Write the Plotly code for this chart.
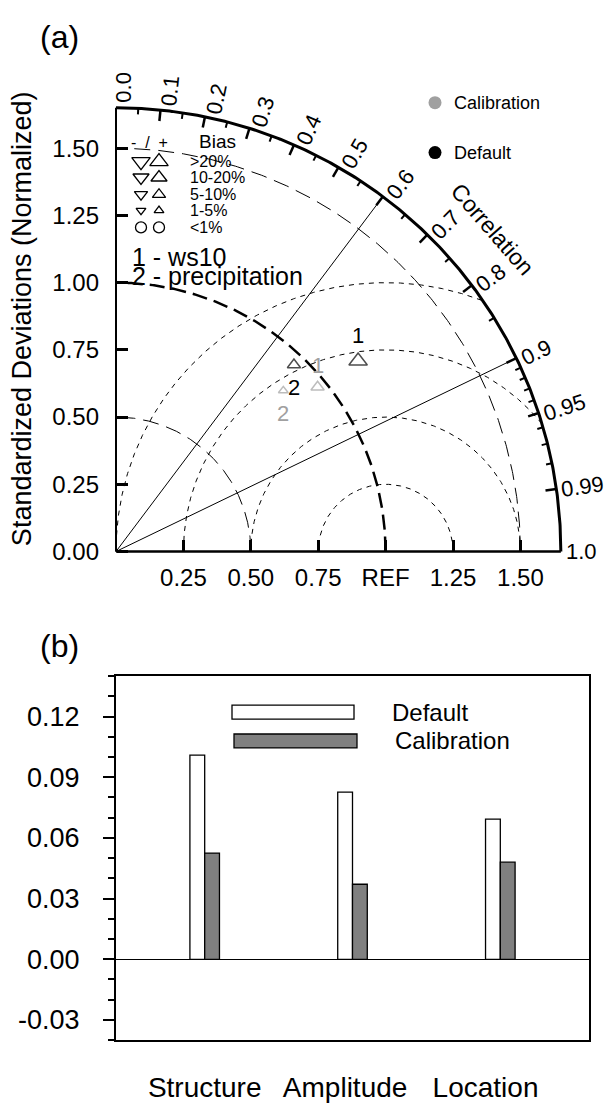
import numpy as np
import plotly.graph_objects as go

W, H = 611, 1103
FONT = "Liberation Sans, Arial, Helvetica, sans-serif"

# ---------------- Data: panel (a) Taylor diagram ----------------
var_ids = ["1", "2"]
var_names = ["ws10", "precipitation"]
default_std = [1.144, 0.958]
default_corr = [0.785, 0.689]
default_bias = [">20%", "5-10%"]
calib_std = [0.966, 0.862]
calib_corr = [0.774, 0.720]
calib_bias = ["5-10%", "1-5%"]

std_ticks = [0.0, 0.25, 0.5, 0.75, 1.0, 1.25, 1.5]
std_ticktext = ["0.00", "0.25", "0.50", "0.75", "1.00", "1.25", "1.50"]
x_ticks = [0.25, 0.5, 0.75, 1.0, 1.25, 1.5]
x_ticktext = ["0.25", "0.50", "0.75", "REF", "1.25", "1.50"]
corr_major = [0.1, 0.2, 0.3, 0.4, 0.5, 0.6, 0.7, 0.8, 0.9, 0.95, 0.99]
corr_minor = [0.05, 0.15, 0.25, 0.35, 0.45, 0.55, 0.65, 0.75, 0.85,
              0.91, 0.92, 0.93, 0.94, 0.96, 0.97, 0.98]
corr_labels = [0.0, 0.1, 0.2, 0.3, 0.4, 0.5, 0.6, 0.7, 0.8, 0.9, 0.95, 0.99, 1.0]
corr_label_text = ["0.0", "0.1", "0.2", "0.3", "0.4", "0.5", "0.6", "0.7", "0.8",
                   "0.9", "0.95", "0.99", "1.0"]
corr_rays = [0.6, 0.9]
std_arcs = [0.5, 1.0, 1.5]
rms_arcs = [0.25, 0.5, 0.75, 1.0]
bias_classes = [">20%", "10-20%", "5-10%", "1-5%", "<1%"]

# ---------------- Data: panel (b) bars ----------------
bar_cats = ["Structure", "Amplitude", "Location"]
bar_default = [0.101, 0.0827, 0.0693]
bar_calib = [0.0525, 0.0371, 0.048]
bar_yticks = [-0.03, 0.0, 0.03, 0.06, 0.09, 0.12]
bar_yticktext = ["-0.03", "0.00", "0.03", "0.06", "0.09", "0.12"]

# ---------------- Geometry / styles ----------------
S = 269.6          # px per unit in Taylor diagram
OX, OY = 116, 553  # pixel position of origin
RMAX = 1.65
TOP_PX = 600
GRAY = "#a0a0a0"
bias_size = {">20%": 16, "10-20%": 14, "5-10%": 11.5, "1-5%": 8.5, "<1%": 11}
LABEL_SPACING = 0.95   # category label spacing relative to bar-group spacing


def pd(px, py):
    """pixel -> Taylor data coords"""
    return (px - OX) / S, (OY - py) / S


def pp(px, py):
    """pixel -> paper coords"""
    return px / W, 1 - py / H


fig = go.Figure()


def line(x, y, width=1, dash="solid", color="black"):
    fig.add_trace(go.Scatter(x=x, y=y, mode="lines", xaxis="x", yaxis="y",
                             line=dict(color=color, width=width, dash=dash),
                             hoverinfo="skip", showlegend=False))


# RMS arcs around REF
tt = np.linspace(0, np.pi, 600)
for r in rms_arcs:
    x = 1 + r * np.cos(tt)
    y = r * np.sin(tt)
    m = (x ** 2 + y ** 2 <= RMAX ** 2 + 1e-9) & (x >= -1e-9)
    line(x[m], y[m], width=1, dash="5px,5px")

# std arcs
t = np.linspace(0, np.pi / 2, 300)
for r in std_arcs:
    if r == 1.0:
        line(r * np.cos(t), r * np.sin(t), width=2.5, dash="15px,7px")
    else:
        line(r * np.cos(t), r * np.sin(t), width=1, dash="16px,8px")

# correlation rays
for c in corr_rays:
    line([0, RMAX * c], [0, RMAX * np.sqrt(1 - c * c)], width=1)

# outer arc and axes
line(RMAX * np.cos(t), RMAX * np.sin(t), width=3)
line([0, RMAX], [0, 0], width=2.5)
line([0, 0], [0, RMAX], width=2)


def arc_ticks(vals, length_px, width):
    xs, ys = [], []
    for c in vals:
        th = np.arccos(c)
        r2 = RMAX - length_px / S
        xs += [RMAX * np.cos(th), r2 * np.cos(th), None]
        ys += [RMAX * np.sin(th), r2 * np.sin(th), None]
    line(xs, ys, width=width)


arc_ticks(corr_major, 11, 2.5)
arc_ticks(corr_minor, 6, 2)

annotations = []


def ann(x, y, text, size, ref="x", color="black", xanchor="center", yanchor="middle",
        **kw):
    annotations.append(dict(x=x, y=y, xref="paper" if ref == "paper" else "x",
                            yref="paper" if ref == "paper" else "y",
                            text=text, showarrow=False, xanchor=xanchor, yanchor=yanchor,
                            font=dict(size=size, family=FONT, color=color), **kw))


# correlation labels
for c, txt in zip(corr_labels, corr_label_text):
    th = np.arccos(c)
    L = (len(txt) - 1) * 0.556 * 22 + 0.278 * 22
    rad = (5 + L / 2) / S
    perp = 8 * np.sin(th) / S
    x = (RMAX + rad) * np.cos(th) + perp * np.sin(th)
    y = (RMAX + rad) * np.sin(th) - perp * np.cos(th)
    ann(x, y, txt, 22, textangle=-np.degrees(th))

cx, cy = pd(492, 230)
ann(cx, cy, "Correlation", 23, textangle=49)


# data markers
def plot_set(stds, corrs, biases, color, offsets):
    xs = [s * c for s, c in zip(stds, corrs)]
    ys = [s * np.sqrt(1 - c * c) for s, c in zip(stds, corrs)]
    fig.add_trace(go.Scatter(x=xs, y=ys, mode="markers", xaxis="x", yaxis="y",
                             marker=dict(symbol="triangle-up-open", color=color,
                                         size=[bias_size[b] for b in biases],
                                         line=dict(width=1.5, color=color)),
                             hoverinfo="skip", showlegend=False))
    for x, y, lab, off in zip(xs, ys, var_ids, offsets):
        ann(x, y, lab, 22, color=color, yshift=off)


plot_set(default_std, default_corr, default_bias, "black", [25, -23])
plot_set(calib_std, calib_corr, calib_bias, GRAY, [22, -23])

# bias legend
rows_py = [162, 178, 195, 211, 228]
for b, py in zip(bias_classes, rows_py):
    xd1, yd = pd(141, py)
    xd2, _ = pd(159, py)
    if b == "<1%":
        syms = ["circle-open", "circle-open"]
    else:
        syms = ["triangle-down-open", "triangle-up-open"]
    fig.add_trace(go.Scatter(x=[xd1, xd2], y=[yd, yd], mode="markers", xaxis="x", yaxis="y",
                             marker=dict(symbol=syms, size=bias_size[b], color="black",
                                         line=dict(width=1.3, color="black")),
                             hoverinfo="skip", showlegend=False))
    tx, ty = pd(188, py)
    ann(tx, ty, b.replace("<", "&lt;").replace(">", "&gt;"), 16, xanchor="left")
hx, hy = pd(149, 143)
ann(hx, hy, "-  /  +", 16)
bx, by = pd(217, 142)
ann(bx, by, "Bias", 19)
for i, (vid, vn) in enumerate(zip(var_ids, var_names)):
    vx, vy = pd(130, 258 + 19 * i)
    ann(vx, vy, f"{vid} - {vn}", 25, xanchor="left")

# Calibration / Default legend
for name, color, py in [("Calibration", GRAY, 103), ("Default", "black", 153)]:
    mx, my = pd(435, py)
    fig.add_trace(go.Scatter(x=[mx], y=[my], mode="markers", xaxis="x", yaxis="y",
                             marker=dict(symbol="circle", size=13, color=color),
                             hoverinfo="skip", showlegend=False))
    lx, ly = pd(452, py)
    ann(lx, ly, name, 18, xanchor="left")

# y title
tx, ty = pp(22, 320)
ann(tx, ty, "Standardized Deviations (Normalized)", 27, ref="paper", textangle=-90)

# panel labels
for lab, py in [("(a)", 37), ("(b)", 648)]:
    ax_, ay_ = pp(59, py)
    ann(ax_, ay_, lab, 32, ref="paper")

# ---------------- Panel (b) bars ----------------
bar_pos = [i + 1 for i in range(len(bar_cats))]
label_pos = [1 + i * LABEL_SPACING for i in range(len(bar_cats))]
fig.add_trace(go.Bar(x=bar_pos, y=bar_default, offset=-0.1, width=0.1,
                     xaxis="x2", yaxis="y2",
                     marker=dict(color="white", line=dict(color="black", width=1.3)),
                     hoverinfo="skip", showlegend=False))
fig.add_trace(go.Bar(x=bar_pos, y=bar_calib, offset=0.0, width=0.1,
                     xaxis="x2", yaxis="y2",
                     marker=dict(color="#808080", line=dict(color="black", width=1.3)),
                     hoverinfo="skip", showlegend=False))

shapes = []
for (x0, y0, x1, y1, col) in [(232, 707, 354, 721, "white"), (234, 736, 357, 750, "#808080")]:
    p0 = pp(x0, y0)
    p1 = pp(x1, y1)
    shapes.append(dict(type="rect", xref="paper", yref="paper", x0=p0[0], y0=p0[1],
                       x1=p1[0], y1=p1[1], fillcolor=col,
                       line=dict(color="black", width=1.3)))
for name, px, py in [("Default", 390, 714), ("Calibration", 393, 743)]:
    ax_, ay_ = pp(px, py)
    ann(ax_, ay_, name, 24, ref="paper", xanchor="left")

fig.update_layout(
    width=W, height=H,
    margin=dict(l=0, r=0, t=0, b=0),
    paper_bgcolor="white", plot_bgcolor="white",
    font=dict(family=FONT, color="black"),
    barmode="overlay",
    xaxis=dict(domain=[0, 1], range=[-OX / S, (W - OX) / S], anchor="free",
               position=1 - OY / H, tickvals=x_ticks, ticktext=x_ticktext,
               ticks="inside", ticklen=11, tickwidth=2.5, tickcolor="black",
               showgrid=False, zeroline=False, showline=False,
               tickfont=dict(size=24, family=FONT, color="black"),
               ticklabelstandoff=10),
    yaxis=dict(domain=[1 - TOP_PX / H, 1], range=[-(TOP_PX - OY) / S, OY / S],
               anchor="free", position=OX / W, tickvals=std_ticks, ticktext=std_ticktext,
               ticks="inside", ticklen=11, tickwidth=2.5, tickcolor="black",
               showgrid=False, zeroline=False, showline=False,
               tickfont=dict(size=24, family=FONT, color="black"),
               ticklabelstandoff=17),
    xaxis2=dict(domain=[116 / W, 589 / W], range=[0.4, 3.6], anchor="y2",
                tickvals=label_pos, ticktext=bar_cats, ticks="",
                showline=True, mirror=True, linewidth=2, linecolor="black",
                showgrid=False, zeroline=False,
                tickfont=dict(size=28, family=FONT, color="black"),
                ticklabelstandoff=21),
    yaxis2=dict(domain=[1 - 1043 / H, 1 - 678 / H], range=[-0.04, 0.14], anchor="x2",
                tickvals=bar_yticks, ticktext=bar_yticktext, ticks="outside", ticklen=11,
                tickwidth=2, tickcolor="black",
                minor=dict(ticks="outside", dtick=0.01, tick0=0, ticklen=6, tickwidth=1.5,
                           tickcolor="black", showgrid=False),
                showline=True, mirror=True, linewidth=2, linecolor="black",
                showgrid=False, zeroline=True, zerolinecolor="black", zerolinewidth=1.3,
                tickfont=dict(size=27, family=FONT, color="black"),
                ticklabelstandoff=18),
    annotations=annotations,
    shapes=shapes,
)

fig.write_html("out.html")
